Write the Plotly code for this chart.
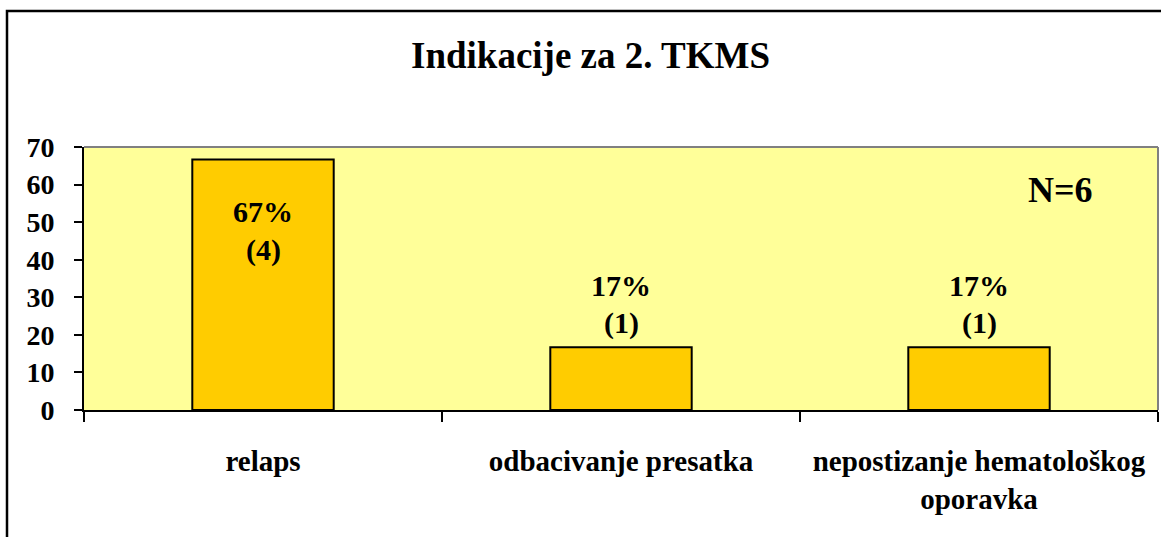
import plotly.graph_objects as go

categories = ["relaps", "odbacivanje presatka", "nepostizanje hematološkog<br>oporavka"]
percent_values = [66.67, 16.67, 16.67]
counts = [4, 1, 1]
n_total = 6
title_text = "Indikacije za 2. TKMS"
y_ticks = [0, 10, 20, 30, 40, 50, 60, 70]

FONT = "Liberation Serif"
W, H = 1161, 537
L, R, T, B = 84, 3, 147, 127
pw, ph = W - L - R, H - T - B

fig = go.Figure()
fig.add_trace(go.Bar(
    x=categories, y=percent_values, width=0.395,
    marker=dict(color="#FFCC00", line=dict(color="black", width=2)),
    hoverinfo="skip",
))

annotations = []
for c, v, n in zip(categories, percent_values, counts):
    inside = v > 40
    s1, s2 = (-52, -90) if inside else (62, 24)
    annotations.append(dict(x=c, y=v, xref="x", yref="y", text=f"<b>{round(v)}%</b>",
                            showarrow=False, yshift=s1, yanchor="middle",
                            font=dict(family=FONT, size=30, color="black")))
    annotations.append(dict(x=c, y=v, xref="x", yref="y", text=f"<b>({n})</b>",
                            showarrow=False, yshift=s2, yanchor="middle",
                            font=dict(family=FONT, size=30, color="black")))

annotations.append(dict(x=0.909, y=0.837, xref="paper", yref="paper", text=f"<b>N={n_total}</b>",
                        showarrow=False, xanchor="center", yanchor="middle",
                        font=dict(family=FONT, size=36, color="black")))
annotations.append(dict(x=(590 - L) / pw, y=1 + (T - 55) / ph, xref="paper", yref="paper",
                        text=f"<b>{title_text}</b>", showarrow=False, xanchor="center", yanchor="middle",
                        font=dict(family=FONT, size=37, color="black")))

shapes = [
    # outer frame
    dict(type="rect", xref="paper", yref="paper",
         x0=(7 - L) / pw, x1=(W + 20 - L) / pw,
         y0=-(B + 20) / ph, y1=1 + (T - 11) / ph,
         line=dict(color="black", width=2.5), layer="above"),
    # grey top and right plot border
    dict(type="line", xref="paper", yref="paper", x0=0, x1=1, y0=1, y1=1,
         line=dict(color="#808080", width=2), layer="above"),
    dict(type="line", xref="paper", yref="paper", x0=1, x1=1, y0=0, y1=1,
         line=dict(color="#808080", width=2), layer="above"),
]

fig.update_layout(
    width=W, height=H,
    margin=dict(l=L, r=R, t=T, b=B),
    paper_bgcolor="white", plot_bgcolor="#FFFF99",
    showlegend=False, bargap=0.6,
    annotations=annotations, shapes=shapes,
    font=dict(family=FONT, color="black"),
)
fig.update_yaxes(
    range=[0, 70], tickvals=y_ticks, ticktext=[f"<b>{t}</b>" for t in y_ticks],
    ticks="outside", ticklen=8, tickwidth=2, tickcolor="black",
    showline=True, linecolor="black", linewidth=2, showgrid=False, zeroline=False,
    tickfont=dict(family=FONT, size=28, color="black"), ticklabelstandoff=14,
)
fig.update_xaxes(
    tickmode="array", tickvals=categories, ticktext=[f"<b>{c}</b>" for c in categories],
    tickson="boundaries", ticks="outside", ticklen=10, tickwidth=2, tickcolor="black",
    showline=True, linecolor="black", linewidth=2, showgrid=False,
    tickfont=dict(family=FONT, size=29, color="black"), ticklabelstandoff=24,
    tickangle=0,
)

fig.write_html("out.html", config={"displayModeBar": False},
               post_script="document.body.style.margin='0';document.body.style.overflow='hidden';")
